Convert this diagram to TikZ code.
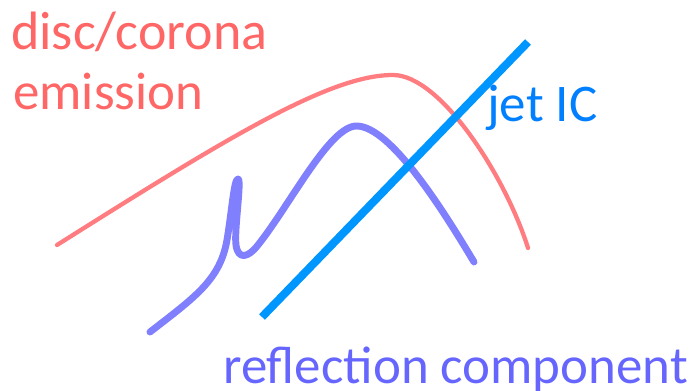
\documentclass[tikz,border=0pt]{standalone}
\usepackage{fontspec}
\setmainfont{Carlito}
\definecolor{discred}{HTML}{FF6666}
\definecolor{discline}{HTML}{FF7C80}
\definecolor{jetline}{HTML}{0096FF}
\definecolor{jettext}{HTML}{0080FF}
\definecolor{refline}{HTML}{8080FF}
\definecolor{reftext}{HTML}{6666FF}
\begin{document}
\begin{tikzpicture}[x=0.75pt,y=-0.75pt,
  lbl/.style={anchor=base west,inner sep=0pt,font=\fontsize{39.7pt}{45pt}\selectfont},
  curve/.style={line cap=round,line join=round}]
\useasboundingbox (0,0) rectangle (696,391);
% disc/corona emission curve
\draw[curve,discline,line width=3.2pt] (57,245) .. controls (230,136) and (330,75) .. (393,75)
  .. controls (440,75) and (505,175) .. (528,248);
% reflection component curve
\draw[curve,refline,line width=5.2pt] (150,332) .. controls (195,297) and (220,280) .. (227,240)
  .. controls (232,210) and (234,179) .. (238,179)
  .. controls (242,179) and (234,230) .. (236,245)
  .. controls (238,260) and (248,258) .. (258,245)
  .. controls (290,205) and (330,125) .. (357,126)
  .. controls (390,127) and (440,205) .. (474,262);
% jet IC line
\coordinate (j1) at (262,317);
\coordinate (j2) at (528,42);
\draw[jetline,line width=6pt] (j1) -- (j2);
% labels
\node[lbl,text=discred,font=\fontsize{40.5pt}{45pt}\selectfont] (disc) at (11,50) {disc/corona};
\node[lbl,text=discred] (emis) at (13,110) {emission};
\node[lbl,text=jettext] (jet) at (487,122) {jet IC};
\node[lbl,text=reftext] (refl) at (223,384) {reflection component};
\end{tikzpicture}
\end{document}
